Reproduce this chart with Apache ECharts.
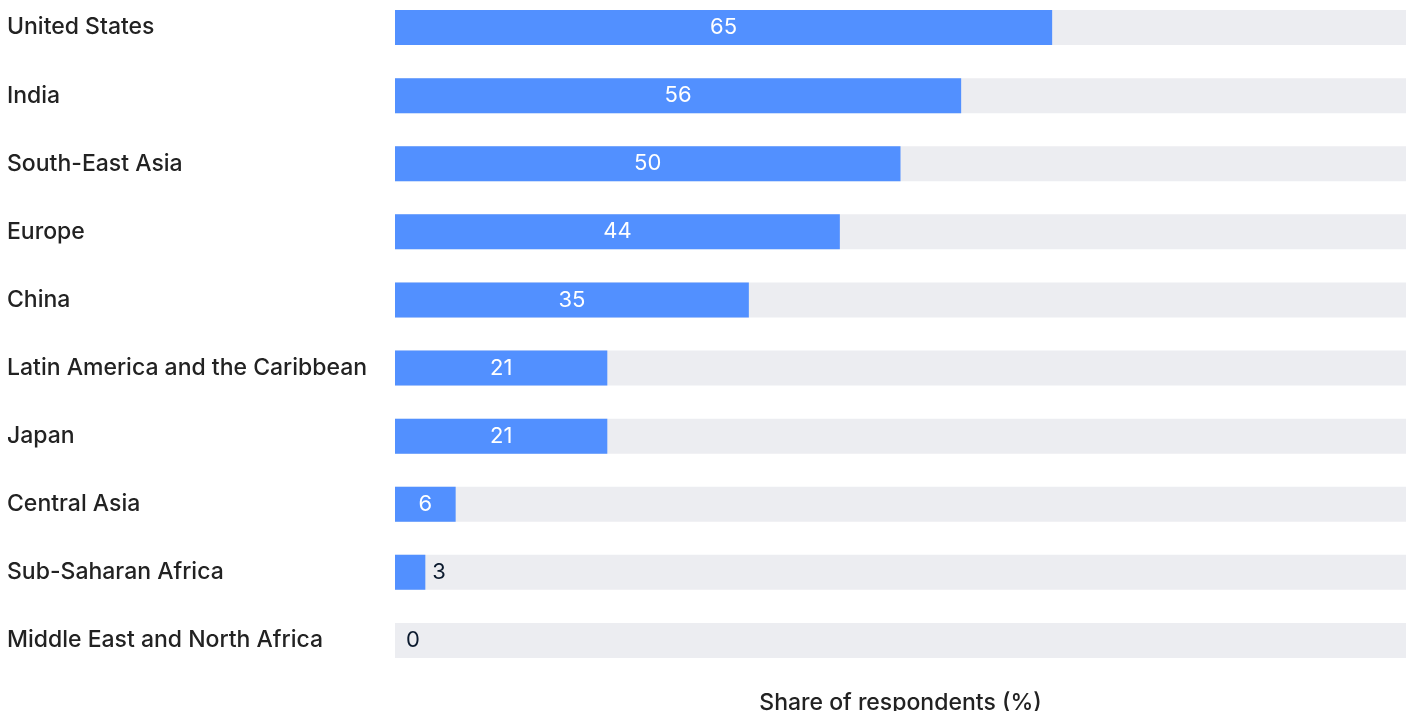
<!DOCTYPE html>
<html>
<head>
<meta charset="utf-8">
<script src="https://cdn.jsdelivr.net/npm/echarts@6/dist/echarts.min.js"></script>
<style>
  html, body { margin: 0; padding: 0; background: #fff; }
  #chart { width: 1410px; height: 711px; }
</style>
</head>
<body>
<div id="chart"></div>
<script>
// regions, top to bottom
const regions = [
  'United States',
  'India',
  'South-East Asia',
  'Europe',
  'China',
  'Latin America and the Caribbean',
  'Japan',
  'Central Asia',
  'Sub-Saharan Africa',
  'Middle East and North Africa'
]
const shares = [65, 56, 50, 44, 35, 21, 21, 6, 3, 0]
const axisTitle = 'Share of respondents (%)'

const font = 'Inter, "Liberation Sans", Arial, sans-serif'

const chart = echarts.init(document.getElementById('chart'))

// small values get their label outside the bar
const barData = shares.map(v => {
  if (v >= 5) return { value: v }
  return {
    value: v,
    label: {
      position: 'right',
      distance: v === 0 ? 11 : 7,
      color: '#0b1a2e'
    }
  }
})

chart.setOption({
  animation: false,
  grid: { left: 395, right: 4, top: -6.5, bottom: 36.5, containLabel: false, outerBoundsMode: 'none' },
  xAxis: {
    type: 'value',
    min: 0,
    max: 100,
    name: axisTitle,
    nameLocation: 'middle',
    nameGap: 17,
    nameTextStyle: { fontFamily: font, fontSize: 23, fontWeight: 500, color: '#222' },
    axisLine: { show: false },
    axisTick: { show: false },
    axisLabel: { show: false },
    splitLine: { show: false }
  },
  yAxis: {
    type: 'category',
    data: regions,
    inverse: true,
    axisLine: { show: false },
    axisTick: { show: false },
    axisLabel: {
      align: 'left',
      margin: 388,
      fontFamily: font,
      fontSize: 23,
      fontWeight: 500,
      color: '#222'
    }
  },
  series: [
    {
      type: 'bar',
      data: barData,
      barWidth: 35,
      itemStyle: { color: '#5290ff' },
      showBackground: true,
      backgroundStyle: { color: '#ecedf1' },
      label: {
        show: true,
        position: 'inside',
        fontFamily: font,
        fontSize: 22,
        color: '#fff'
      }
    }
  ]
})
</script>
</body>
</html>
